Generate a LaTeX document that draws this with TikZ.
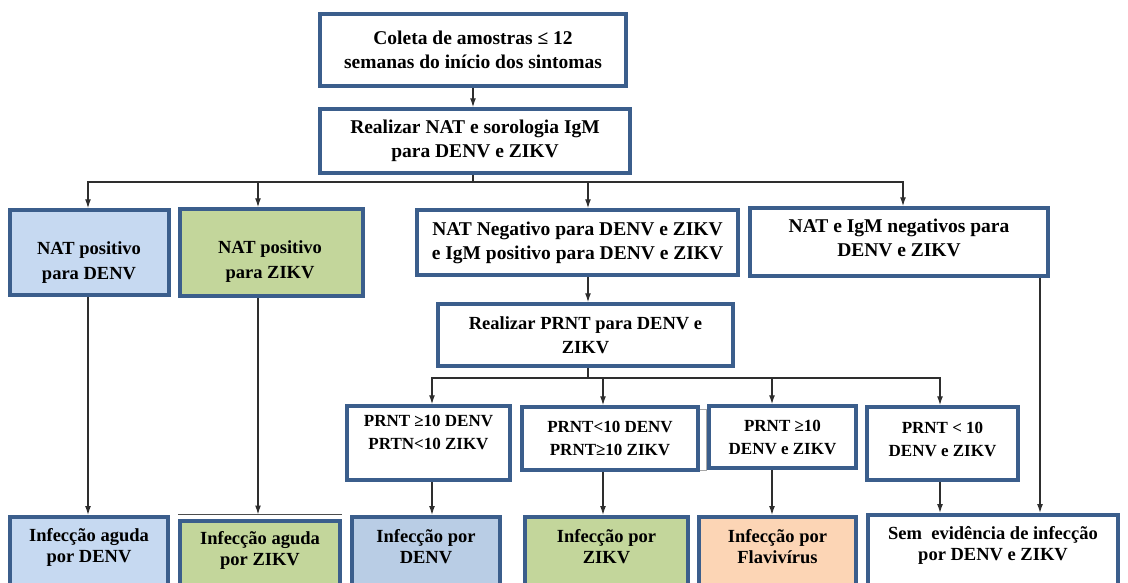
\documentclass[tikz,border=0pt]{standalone}
\usepackage{fontspec}
\setmainfont{Liberation Serif}
\usetikzlibrary{arrows.meta}
\definecolor{frame}{HTML}{3B5E8C}
\definecolor{denv}{HTML}{C6D9F1}
\definecolor{denvdark}{HTML}{B9CDE5}
\definecolor{zikv}{HTML}{C3D69B}
\definecolor{flavi}{HTML}{FCD5B5}
\definecolor{wire}{HTML}{2E2E2E}
\begin{document}
\begin{tikzpicture}[x=1pt,y=-1pt,
  box/.style={draw=frame, line width=3.5pt, fill=white, align=center, inner sep=1pt,
    font=\bfseries\fontsize{18.5}{24}\selectfont},
  big/.style={font=\bfseries\fontsize{19.5}{24}\selectfont},
  small/.style={font=\bfseries\fontsize{17}{23}\selectfont},
  txt/.style={align=center, inner sep=0pt, font=\bfseries\fontsize{18.5}{21}\selectfont},
  link/.style={draw=wire, line width=1.3pt},
  arr/.style={link, -{Latex[length=9pt,width=6pt]}}]
\useasboundingbox (0,0) rectangle (1128,582);
\clip (0,0) rectangle (1128,582);

% first two steps
\node[box, big, minimum width=306pt, minimum height=72pt] (c) at (473,50)
  {Coleta de amostras ≤ 12\\semanas do início dos sintomas};
\node[box, big, minimum width=310pt, minimum height=64pt] (r) at (475,141)
  {Realizar NAT e sorologia IgM\\para DENV e ZIKV};

% results of NAT / IgM
\node[box, fill=denv, minimum width=159pt, minimum height=85pt] (a1) at (89.5,252.5) {};
\node[txt, font=\bfseries\fontsize{18.5}{25}\selectfont] (a1t) at (89,262.5) {NAT positivo\\para DENV};
\node[box, fill=zikv, minimum width=183pt, minimum height=87pt] (a2) at (271.5,252.5) {};
\node[txt, font=\bfseries\fontsize{18.5}{25}\selectfont] (a2t) at (270,261.5) {NAT positivo\\para ZIKV};
\node[box, big, minimum width=321pt, minimum height=65pt] (a3) at (577.5,242.5)
  {NAT Negativo para DENV e ZIKV\\e IgM positivo para DENV e ZIKV};
\node[box, minimum width=298pt, minimum height=68pt] (a4) at (899,242) {};
\node[txt, font=\bfseries\fontsize{19.5}{24}\selectfont] (a4t) at (899,238) {NAT e IgM negativos para\\DENV e ZIKV};

% PRNT
\node[box, minimum width=295pt, minimum height=62pt] (p) at (585.5,335)
  {Realizar PRNT para DENV e\\ZIKV};
\draw[gray!70, line width=0.8pt] (526,409) rectangle (706,470);
\node[box, minimum width=163pt, minimum height=74pt] (b1) at (428.5,443) {};
\node[txt, font=\bfseries\fontsize{17}{23}\selectfont] (b1t) at (428.5,432) {PRNT ≥10 DENV\\PRTN<10 ZIKV};
\node[box, small, minimum width=176pt, minimum height=63pt] (b2) at (610,438.5)
  {PRNT<10 DENV\\PRNT≥10 ZIKV};
\node[box, small, minimum width=147pt, minimum height=62pt] (b3) at (782.5,437)
  {PRNT ≥10\\DENV e ZIKV};
\node[box, minimum width=151pt, minimum height=73pt] (b4) at (942.5,443.5) {};
\node[txt, font=\bfseries\fontsize{17}{23}\selectfont] (b4t) at (942.5,439) {PRNT < 10\\DENV e ZIKV};

% outcomes (running past the lower edge)
\node[box, fill=denv, minimum width=158pt, minimum height=80pt, anchor=north] (d1) at (89,515) {};
\node[box, fill=zikv, minimum width=160pt, minimum height=80pt, anchor=north] (d2) at (260,519) {};
\draw[wire!85, line width=1.5pt] ([yshift=4.5pt]d2.north west) -- ([yshift=4.5pt]d2.north east);
\node[box, fill=denvdark, minimum width=148pt, minimum height=80pt, anchor=north] (d3) at (426,515) {};
\node[box, fill=zikv, minimum width=163pt, minimum height=80pt, anchor=north] (d4) at (606.5,515) {};
\node[box, fill=flavi, minimum width=157pt, minimum height=80pt, anchor=north] (d5) at (777.5,515) {};
\node[box, minimum width=250pt, minimum height=80pt, anchor=north] (d6) at (993,513) {};
\node[txt] (d1t) at (d1.north |- 0,547) {Infecção aguda\\por DENV};
\node[txt] (d2t) at (d2.north |- 0,550) {Infecção aguda\\por ZIKV};
\node[txt] (d3t) at (d3.north |- 0,547) {Infecção por\\DENV};
\node[txt] (d4t) at (d4.north |- 0,547) {Infecção por\\ZIKV};
\node[txt] (d5t) at (d5.north |- 0,547) {Infecção por\\Flavivírus};
\node[txt] (d6t) at (d6.north |- 0,545) {Sem \ evidência de infecção\\por DENV e ZIKV};

% connectors
\draw[arr] (c.south) -- (c.south |- r.north);
\coordinate (bus1) at (473,182);
\draw[link] (bus1 |- r.south) -- (bus1);
\draw[arr] (bus1) -| ([xshift=-1.5pt]a1.north);
\draw[arr] (bus1) -| ([xshift=-13.5pt]a2.north);
\draw[arr] (bus1) -| ([xshift=10.5pt]a3.north);
\draw[arr] (bus1) -| ([xshift=4pt]a4.north);

\draw[arr] ([xshift=10.5pt]a3.south) -- ([xshift=10.5pt]a3.south |- p.north);
\coordinate (bus2) at (588,378);
\draw[link] (bus2 |- p.south) -- (bus2);
\draw[arr] (bus2) -| ([xshift=3.5pt]b1.north);
\draw[arr] (bus2) -| ([xshift=-7pt]b2.north);
\draw[arr] (bus2) -| ([xshift=-10.5pt]b3.north);
\draw[arr] (bus2) -| ([xshift=-2.5pt]b4.north);

\draw[arr] ([xshift=-1.5pt]a1.south) -- ([xshift=-1.5pt]a1.south |- d1.north);
\draw[arr] ([xshift=-13.5pt]a2.south) -- ([xshift=-13.5pt,yshift=4.5pt]a2.south |- d2.north);
\draw[arr] ([xshift=3.5pt]b1.south) -- ([xshift=3.5pt]b1.south |- d3.north);
\draw[arr] ([xshift=-7pt]b2.south) -- ([xshift=-7pt]b2.south |- d4.north);
\draw[arr] ([xshift=-10.5pt]b3.south) -- ([xshift=-10.5pt]b3.south |- d5.north);
\draw[arr] ([xshift=-2.5pt]b4.south) -- ([xshift=-2.5pt]b4.south |- d6.north);
\draw[arr] ([xshift=141pt]a4.south) -- ([xshift=141pt]a4.south |- d6.north);
\end{tikzpicture}
\end{document}
